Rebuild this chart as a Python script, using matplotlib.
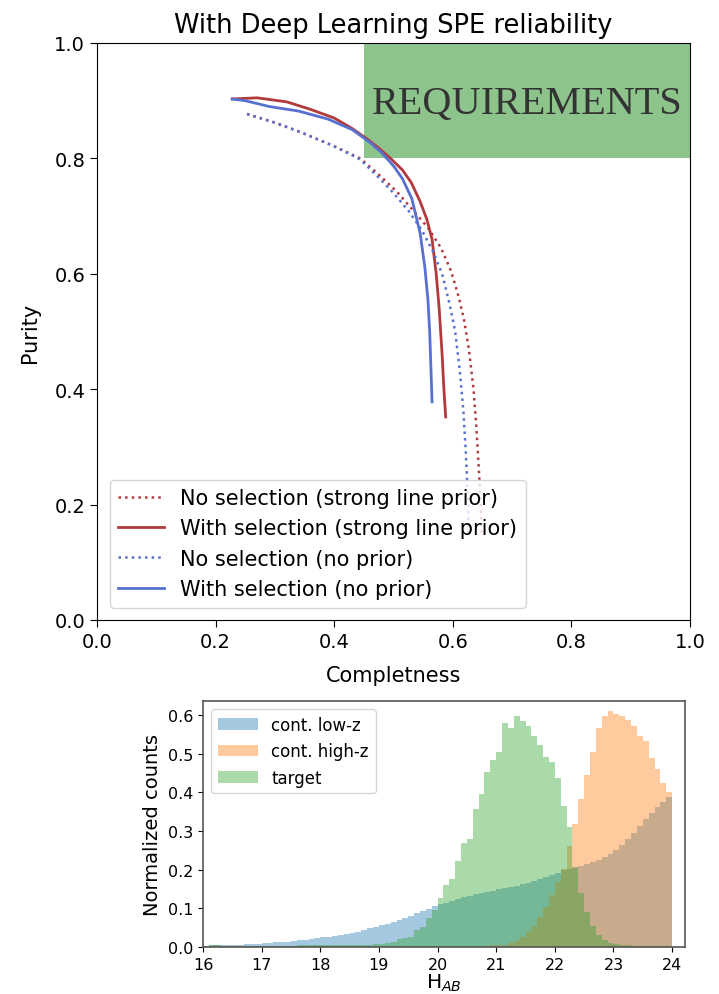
import numpy as np
import matplotlib.pyplot as plt
from matplotlib.patches import Rectangle

# ---- curva pureza / completitud ----
comp_sel_strong = [0.228, 0.27, 0.32, 0.36, 0.40, 0.43, 0.455, 0.475, 0.495, 0.515, 0.530,
                   0.545, 0.556, 0.565, 0.572, 0.577, 0.582, 0.585, 0.588]
pur_sel_strong = [0.903, 0.905, 0.898, 0.885, 0.870, 0.852, 0.834, 0.818, 0.800, 0.780, 0.758,
                  0.725, 0.695, 0.660, 0.600, 0.540, 0.460, 0.400, 0.352]

comp_sel_none = [0.228, 0.25, 0.29, 0.34, 0.39, 0.43, 0.46, 0.48, 0.50, 0.515, 0.531,
                 0.545, 0.553, 0.558, 0.561, 0.563, 0.565]
pur_sel_none = [0.903, 0.900, 0.890, 0.882, 0.868, 0.850, 0.828, 0.810, 0.787, 0.765, 0.730,
                0.670, 0.610, 0.556, 0.500, 0.440, 0.378]

comp_nosel_strong = [0.253, 0.30, 0.342, 0.398, 0.444, 0.475, 0.506, 0.533, 0.558, 0.580,
                     0.597, 0.610, 0.619, 0.627, 0.635, 0.640, 0.644, 0.647, 0.649]
pur_nosel_strong = [0.877, 0.862, 0.846, 0.822, 0.800, 0.772, 0.742, 0.710, 0.680, 0.645,
                    0.605, 0.560, 0.520, 0.470, 0.400, 0.330, 0.260, 0.200, 0.150]

comp_nosel_none = [0.253, 0.30, 0.342, 0.398, 0.444, 0.472, 0.500, 0.527, 0.548, 0.566,
                   0.582, 0.594, 0.604, 0.612, 0.618, 0.622, 0.625, 0.627]
pur_nosel_none = [0.877, 0.862, 0.846, 0.822, 0.798, 0.770, 0.740, 0.707, 0.675, 0.640,
                  0.600, 0.550, 0.500, 0.430, 0.360, 0.290, 0.220, 0.150]

# ---- histogramas H_AB (bins de 0.1 entre 16 y 24) ----
bordes = np.round(np.arange(16.0, 24.05, 0.1), 2)

low_z = [0.003, 0.004, 0.004, 0.005, 0.005, 0.006, 0.006, 0.007, 0.008, 0.009,
         0.010, 0.011, 0.012, 0.013, 0.014, 0.016, 0.018, 0.019, 0.021, 0.023,
         0.025, 0.027, 0.029, 0.031, 0.034, 0.037, 0.040, 0.044, 0.048, 0.052,
         0.056, 0.060, 0.065, 0.070, 0.075, 0.081, 0.087, 0.093, 0.099, 0.105,
         0.110, 0.115, 0.120, 0.124, 0.128, 0.132, 0.136, 0.140, 0.143, 0.146,
         0.149, 0.152, 0.155, 0.158, 0.162, 0.166, 0.170, 0.175, 0.180, 0.186,
         0.192, 0.198, 0.202, 0.206, 0.210, 0.214, 0.220, 0.226, 0.233, 0.241,
         0.252, 0.265, 0.280, 0.296, 0.313, 0.330, 0.347, 0.362, 0.376, 0.388]

high_z = [0.002] * 40 + \
         [0.002, 0.002, 0.002, 0.002, 0.002, 0.003, 0.003, 0.003, 0.003, 0.004,
          0.004, 0.006, 0.010, 0.015, 0.027, 0.042, 0.055, 0.077, 0.103, 0.134,
          0.167, 0.201, 0.262, 0.318, 0.383, 0.445, 0.505, 0.566, 0.596, 0.609,
          0.603, 0.598, 0.588, 0.571, 0.545, 0.532, 0.489, 0.459, 0.424, 0.402]

target = [0.001, 0.004, 0.004, 0.003, 0.003, 0.003, 0.003, 0.003, 0.003, 0.003,
          0.003, 0.003, 0.003, 0.003, 0.003, 0.003, 0.004, 0.004, 0.004, 0.004,
          0.004, 0.004, 0.004, 0.005, 0.005, 0.005, 0.006, 0.006, 0.006, 0.007,
          0.008, 0.010, 0.014, 0.020, 0.024, 0.027, 0.045, 0.052, 0.075, 0.095,
          0.127, 0.160, 0.176, 0.222, 0.269, 0.279, 0.357, 0.395, 0.453, 0.483,
          0.503, 0.579, 0.565, 0.596, 0.585, 0.572, 0.546, 0.523, 0.490, 0.477,
          0.437, 0.365, 0.311, 0.205, 0.140, 0.090, 0.055, 0.032, 0.018, 0.011,
          0.007, 0.005, 0.004, 0.003, 0.003, 0.002, 0.002, 0.002, 0.002, 0.002]

rojo = '#b23a3c'
azul = '#5671d0'

fig = plt.figure(figsize=(7.19, 9.95), dpi=100)

# Panel superior
ax = fig.add_axes([97/719, 1 - 621/995, 593/719, 577/995])
ax.add_patch(Rectangle((0.45, 0.8), 0.55, 0.2, facecolor='#8cc48c', edgecolor='none', zorder=0))
ax.text(0.725, 0.895, 'REQUIREMENTS', family='Liberation Serif', fontsize=29,
        color='#333333', ha='center', va='center', zorder=1)
ax.plot(comp_nosel_strong, pur_nosel_strong, ':', color=rojo, lw=1.8,
        label='No selection (strong line prior)')
ax.plot(comp_sel_strong, pur_sel_strong, '-', color=rojo, lw=2,
        label='With selection (strong line prior)')
ax.plot(comp_nosel_none, pur_nosel_none, ':', color=azul, lw=1.8,
        label='No selection (no prior)')
ax.plot(comp_sel_none, pur_sel_none, '-', color=azul, lw=2,
        label='With selection (no prior)')
ax.set_xlim(0, 1)
ax.set_ylim(0, 1)
ax.set_xticks([0, 0.2, 0.4, 0.6, 0.8, 1.0])
ax.set_yticks([0, 0.2, 0.4, 0.6, 0.8, 1.0])
ax.tick_params(labelsize=14, length=5)
ax.set_xlabel('Completness', fontsize=15, labelpad=10)
ax.set_ylabel('Purity', fontsize=15, labelpad=10)
ax.set_title('With Deep Learning SPE reliability', fontsize=18.5, pad=8)
ax.legend(loc='lower left', fontsize=15, handlelength=2.2, borderaxespad=0.6)

# Panel inferior
ax2 = fig.add_axes([203/719, 1 - 948/995, 482/719, 246/995])
centros = bordes[:-1] + 0.05
ax2.hist(centros, bins=bordes, weights=low_z, color='C0', alpha=0.4, label='cont. low-z')
ax2.hist(centros, bins=bordes, weights=high_z, color='C1', alpha=0.4, label='cont. high-z')
ax2.hist(centros, bins=bordes, weights=target, color='C2', alpha=0.4, label='target')
ax2.set_xlim(16, 24.22)
ax2.set_ylim(0, 0.636)
ax2.set_xticks(range(16, 25))
ax2.set_yticks([0, 0.1, 0.2, 0.3, 0.4, 0.5, 0.6])
ax2.tick_params(labelsize=11.5)
ax2.set_xlabel('H$_{AB}$', fontsize=14.5, labelpad=0)
ax2.set_ylabel('Normalized counts', fontsize=14)
for s in ax2.spines.values():
    s.set_color('#555555')
    s.set_linewidth(1.2)
ax2.legend(loc='upper left', fontsize=12, handlelength=2.4)

fig.savefig('out.png', dpi=100)
